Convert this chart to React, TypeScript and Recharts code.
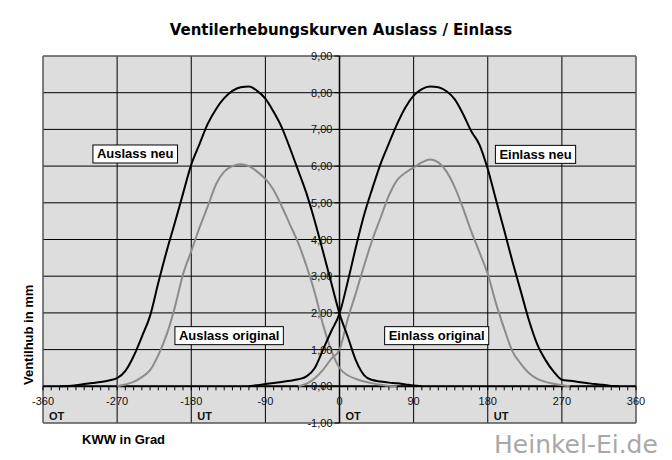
import {
  LineChart,
  Line,
  XAxis,
  YAxis,
  CartesianGrid,
  ReferenceLine,
  ReferenceArea,
  ReferenceDot,
} from 'recharts';

// crank angle in degrees (KWW)
const angles = [
  -360, -350, -340, -330, -320, -310, -300, -290, -280, -270,
  -260, -250, -240, -230, -220, -210, -200, -190, -180, -170,
  -160, -150, -140, -130, -120, -110, -100, -90, -80, -70,
  -60, -50, -40, -30, -20, -10, 0, 10, 20, 30,
  40, 50, 60, 70, 80, 90, 100, 110, 120, 130,
  140, 150, 160, 170, 180, 190, 200, 210, 220, 230,
  240, 250, 260, 270, 280, 290, 300, 310, 320, 330,
  340, 350, 360,
];

// valve lift in mm, one value per angle (null = no curve there)
const auslassNeu = [
  null, null, 0, 0.01, 0.03, 0.06, 0.09, 0.12, 0.16, 0.22,
  0.42, 0.82, 1.35, 1.92, 2.82, 3.67, 4.45, 5.25, 6.04, 6.6,
  7.15, 7.55, 7.85, 8.05, 8.15, 8.17, 8.05, 7.84, 7.48, 7.05,
  6.48, 5.87, 5.25, 4.5, 3.67, 2.82, 1.98, 1.35, 0.7, 0.3,
  0.17, 0.13, 0.1, 0.08, 0.05, 0.02, 0, null, null, null,
  null, null, null, null, null, null, null, null, null, null,
  null, null, null, null, null, null, null, null, null, null,
  null, null, null,
];

const auslassOriginal = [
  null, null, null, null, null, null, null, null, null, 0,
  0.05, 0.12, 0.25, 0.44, 0.85, 1.4, 2.15, 3.05, 3.68, 4.32,
  4.9, 5.5, 5.85, 6.0, 6.05, 6.0, 5.85, 5.65, 5.35, 4.9,
  4.4, 3.9, 3.27, 2.55, 1.68, 0.98, 0.5, 0.3, 0.2, 0.13,
  0.08, 0.04, 0.01, 0, null, null, null, null, null, null,
  null, null, null, null, null, null, null, null, null, null,
  null, null, null, null, null, null, null, null, null, null,
  null, null, null,
];

const einlassNeu = [
  null, null, null, null, null, null, null, null, null, null,
  null, null, null, null, null, null, null, null, null, null,
  null, null, null, null, null, 0, 0.03, 0.06, 0.09, 0.12,
  0.15, 0.19, 0.27, 0.5, 1.0, 1.5, 1.98, 2.85, 3.8, 4.68,
  5.4, 6.07, 6.62, 7.15, 7.6, 7.92, 8.1, 8.17, 8.15, 8.04,
  7.82, 7.42, 6.95, 6.58, 5.92, 5.08, 4.25, 3.4, 2.6, 1.8,
  1.15, 0.72, 0.4, 0.18, 0.15, 0.12, 0.09, 0.06, 0.04, 0.01,
  0, null, null,
];

const einlassOriginal = [
  null, null, null, null, null, null, null, null, null, null,
  null, null, null, null, null, null, null, null, null, null,
  null, null, null, null, null, null, null, null, null, null,
  null, 0, 0.07, 0.22, 0.45, 0.75, 1.0, 1.83, 2.55, 3.3,
  4.0, 4.6, 5.2, 5.62, 5.82, 5.96, 6.1, 6.18, 6.1, 5.85,
  5.42, 4.85, 4.22, 3.65, 3.06, 2.26, 1.57, 0.95, 0.62, 0.36,
  0.2, 0.12, 0.07, 0.03, 0, null, null, null, null, null,
  null, null, null,
];

const xTicks = [-360, -270, -180, -90, 0, 90, 180, 270, 360];
const yTicks = [-1, 0, 1, 2, 3, 4, 5, 6, 7, 8, 9];

// dead centres under the x axis
const deadCentreAngles = [-360, -180, 0, 180];
const deadCentreNames = ['OT', 'UT', 'OT', 'UT'];

// boxed curve names
const noteTexts = ['Auslass neu', 'Auslass original', 'Einlass neu', 'Einlass original'];
const noteAngles = [-248, -134, 238, 118];
const noteLifts = [6.33, 1.38, 6.32, 1.38];

const data = angles.map((angle, i) => ({
  angle,
  auslassNeu: auslassNeu[i],
  auslassOriginal: auslassOriginal[i],
  einlassNeu: einlassNeu[i],
  einlassOriginal: einlassOriginal[i],
}));

const WIDTH = 672;
const HEIGHT = 460;
// each axis below takes 1px, so the plot is 43..636 x 56..423
const MARGIN = { top: 56, right: 36, bottom: 35, left: 42 };
const PLOT_LEFT = 43;
const PLOT_TOP = 56;
const PLOT_W = 593;
const PLOT_H = 367;
const CENTER_X = PLOT_LEFT + PLOT_W / 2;
const ZERO_Y = PLOT_TOP + (PLOT_H * 9) / 10;
const BOTTOM_Y = PLOT_TOP + PLOT_H;

const TICK_FONT = '"Liberation Sans", Arial, sans-serif';
const LABEL_FONT = '"Liberation Sans", Arial, sans-serif';
const NOTE_FONT = `bold 13px ${LABEL_FONT}`;

let ctx: CanvasRenderingContext2D | null = null;
const measure = (text: string) => {
  if (!ctx) ctx = document.createElement('canvas').getContext('2d');
  if (!ctx) return text.length * 7;
  ctx.font = NOTE_FONT;
  return ctx.measureText(text).width;
};

const formatLift = (v: number) => v.toFixed(2).replace('.', ',');

function XTick(props: any) {
  const { x, payload } = props;
  const idx = deadCentreAngles.indexOf(payload.value);
  return (
    <g>
      <text x={x} y={ZERO_Y + 19} textAnchor="middle" fontSize={11} fontFamily={TICK_FONT} fill="#111">
        {payload.value}
      </text>
      {idx >= 0 && (
        <text x={x + 6} y={BOTTOM_Y - 3} fontSize={11} fontWeight="bold" fontFamily={LABEL_FONT} fill="#111">
          {deadCentreNames[idx]}
        </text>
      )}
    </g>
  );
}

function MinorTick(props: any) {
  const { x } = props;
  return <line x1={x} y1={ZERO_Y} x2={x} y2={ZERO_Y + 4} stroke="#000" strokeWidth={1} />;
}

function YTick(props: any) {
  const { y, payload } = props;
  return (
    <g>
      <line x1={CENTER_X - 5} y1={y} x2={CENTER_X} y2={y} stroke="#000" />
      <text x={CENTER_X - 7} y={y + 4} textAnchor="end" fontSize={11} fontFamily={TICK_FONT} fill="#111">
        {formatLift(payload.value)}
      </text>
    </g>
  );
}

function NoteBox({ cx, cy, text }: { cx?: number; cy?: number; text: string }) {
  if (cx == null || cy == null) return null;
  const w = measure(text) + 8;
  return (
    <g>
      <rect x={cx - w / 2} y={cy - 9} width={w} height={18} fill="#fff" stroke="#000" />
      <text x={cx} y={cy + 4.5} textAnchor="middle" fontSize={13} fontWeight="bold" fontFamily={LABEL_FONT} fill="#000">
        {text}
      </text>
    </g>
  );
}

export default function App() {
  return (
    <div style={{ position: 'absolute', left: 0, top: 0, width: WIDTH, height: HEIGHT, background: '#fff' }}>
      <LineChart width={WIDTH} height={HEIGHT} data={data} margin={MARGIN}>
        <CartesianGrid stroke="#000" fill="#dddddd" fillOpacity={1} />
        <XAxis
          dataKey="angle"
          type="number"
          domain={[-360, 360]}
          ticks={xTicks}
          interval={0}
          height={1}
          axisLine={false}
          tickLine={false}
          tick={<XTick />}
        />
        <XAxis
          xAxisId="minor"
          dataKey="angle"
          type="number"
          domain={[-360, 360]}
          ticks={angles}
          interval={0}
          height={1}
          axisLine={false}
          tickLine={false}
          tick={<MinorTick />}
        />
        <YAxis
          type="number"
          domain={[-1, 9]}
          ticks={yTicks}
          interval={0}
          width={1}
          axisLine={false}
          tickLine={false}
          tick={<YTick />}
        />
        <ReferenceArea x1={-360} x2={360} y1={-1} y2={9} fill="none" stroke="#808080" />
        <ReferenceLine x={0} stroke="#000" strokeWidth={1.5} />
        <ReferenceLine y={0} stroke="#000" strokeWidth={2} />
        <Line type="monotone" dataKey="auslassOriginal" stroke="#8c8c8c" strokeWidth={2} dot={false} isAnimationActive={false} />
        <Line type="monotone" dataKey="einlassOriginal" stroke="#8c8c8c" strokeWidth={2} dot={false} isAnimationActive={false} />
        <Line type="monotone" dataKey="auslassNeu" stroke="#000" strokeWidth={2} dot={false} isAnimationActive={false} />
        <Line type="monotone" dataKey="einlassNeu" stroke="#000" strokeWidth={2} dot={false} isAnimationActive={false} />
        {noteTexts.map((t, i) => (
          <ReferenceDot
            key={t}
            x={noteAngles[i]}
            y={noteLifts[i]}
            r={0}
            shape={(p: any) => <NoteBox cx={p.cx} cy={p.cy} text={t} />}
          />
        ))}
      </LineChart>
      <svg
        width={WIDTH}
        height={HEIGHT}
        style={{ position: 'absolute', left: 0, top: 0, pointerEvents: 'none' }}
      >
        <text x={341} y={35} textAnchor="middle" fontSize={15} fontWeight="bold" fontFamily='"DejaVu Sans", Verdana, sans-serif' fill="#000">
          Ventilerhebungskurven Auslass / Einlass
        </text>
        <text x={33} y={385} transform="rotate(-90 33 385)" fontSize={13} fontWeight="bold" fontFamily={LABEL_FONT} fill="#000">
          Ventilhub in mm
        </text>
        <text x={82} y={444} fontSize={13} fontWeight="bold" fontFamily={LABEL_FONT} fill="#000">
          KWW in Grad
        </text>
        <text x={494} y={453} fontSize={25} fontFamily='"DejaVu Sans", Verdana, sans-serif' fill="#a8a8a8">
          Heinkel-Ei.de
        </text>
      </svg>
    </div>
  );
}
